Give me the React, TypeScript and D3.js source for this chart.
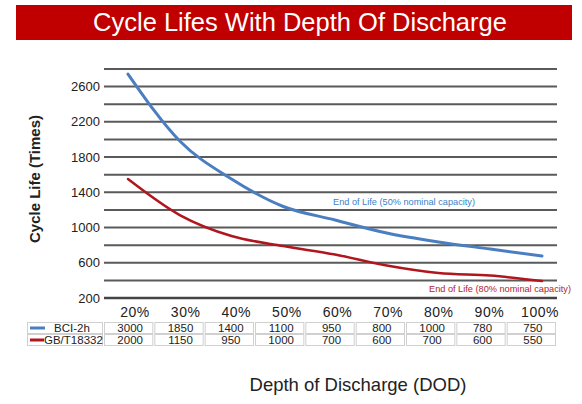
import * as d3 from "d3"
import { useEffect, useRef } from "react"

const categories = ["20%", "30%", "40%", "50%", "60%", "70%", "80%", "90%", "100%"]
const yTickValues = [200, 600, 1000, 1400, 1800, 2200, 2600]
const gridValues = [200, 400, 600, 800, 1000, 1200, 1400, 1600, 1800, 2000, 2200, 2400, 2600, 2800]

// values
const bciCurve = [2743, 1983, 1551, 1239, 1086, 938, 836, 756, 677]
const gbCurve = [1551, 1142, 904, 790, 694, 569, 484, 455, 393]

// values printed in the table under the chart
const seriesNames = ["BCI-2h", "GB/T18332"]
const bciTable = [3000, 1850, 1400, 1100, 950, 800, 1000, 780, 750]
const gbTable = [2000, 1150, 950, 1000, 700, 600, 700, 600, 550]

const WIDTH = 582
const HEIGHT = 404
const FONT = "'Liberation Sans', Arial, sans-serif"
const BLUE = "#4a7ec0"
const RED = "#b0161e"

const App = () => {
  const svgRef = useRef<SVGSVGElement>(null)

  useEffect(() => {
    if (!svgRef.current) return
    d3.select(svgRef.current).selectAll("*").remove()

    const svg = d3
      .select(svgRef.current)
      .attr("width", WIDTH)
      .attr("height", HEIGHT)
      .style("font-family", FONT)

    svg.append("rect").attr("width", WIDTH).attr("height", HEIGHT).attr("fill", "#fff")

    // title bar
    svg
      .append("rect")
      .attr("x", 16)
      .attr("y", 5)
      .attr("width", 556)
      .attr("height", 35)
      .attr("fill", "#c00000")
    svg
      .append("text")
      .attr("x", 300)
      .attr("y", 31)
      .attr("text-anchor", "middle")
      .attr("font-size", "25.5px")
      .attr("fill", "#fff")
      .text("Cycle Lifes With Depth Of Discharge")

    const yScale = d3.scaleLinear().domain([200, 2800]).range([298, 69])
    const xScale = d3.scalePoint<string>().domain(categories).range([128, 542])
    const labelScale = d3.scalePoint<string>().domain(categories).range([135, 540])
    const colScale = d3.scaleBand<string>().domain(categories).range([103, 556])

    // grid lines
    svg
      .append("g")
      .selectAll("line")
      .data(gridValues)
      .join("line")
      .attr("x1", 104)
      .attr("x2", 557)
      .attr("y1", (d) => yScale(d))
      .attr("y2", (d) => yScale(d))
      .attr("stroke", (d) => (d === 200 ? "#444" : "#5a5a5a"))
      .attr("stroke-width", (d) => (d === 200 ? 2.5 : 2))

    // y tick labels
    svg
      .append("g")
      .selectAll("text")
      .data(yTickValues)
      .join("text")
      .attr("x", 100)
      .attr("y", (d) => yScale(d) + 4.5)
      .attr("text-anchor", "end")
      .attr("font-size", "13px")
      .attr("fill", "#222")
      .text((d) => d)

    // y axis title
    svg
      .append("text")
      .attr("transform", "translate(40, 179) rotate(-90)")
      .attr("text-anchor", "middle")
      .attr("font-size", "15px")
      .attr("font-weight", "bold")
      .attr("fill", "#222")
      .text("Cycle Life (Times)")

    // x category labels
    svg
      .append("g")
      .selectAll("text")
      .data(categories)
      .join("text")
      .attr("x", (d) => labelScale(d) ?? 0)
      .attr("y", 317)
      .attr("text-anchor", "middle")
      .attr("font-size", "14px")
      .attr("letter-spacing", "0.5px")
      .attr("fill", "#222")
      .text((d) => d)

    const line = d3
      .line<number>()
      .x((_, i) => xScale(categories[i]) ?? 0)
      .y((d) => yScale(d))
      .curve(d3.curveMonotoneX)

    svg
      .append("path")
      .datum(bciCurve)
      .attr("fill", "none")
      .attr("stroke", BLUE)
      .attr("stroke-width", 3)
      .attr("stroke-linecap", "round")
      .attr("d", line)

    svg
      .append("path")
      .datum(gbCurve)
      .attr("fill", "none")
      .attr("stroke", RED)
      .attr("stroke-width", 2.5)
      .attr("stroke-linecap", "round")
      .attr("d", line)

    svg
      .append("text")
      .attr("x", 333)
      .attr("y", 205)
      .attr("font-size", "9.2px")
      .attr("fill", "#3d7fc4")
      .text("End of Life (50% nominal capacity)")

    svg
      .append("text")
      .attr("x", 429)
      .attr("y", 292)
      .attr("font-size", "9.2px")
      .attr("fill", "#b3232b")
      .text("End of Life (80% nominal capacity)")

    // table
    const rows = [bciTable, gbTable]
    const colors = [BLUE, RED]
    const rowTop = [322, 334]
    const rowH = 12
    const table = svg.append("g")

    rows.forEach((vals, r) => {
      table
        .append("rect")
        .attr("x", 27.5)
        .attr("y", rowTop[r] + 0.5)
        .attr("width", 75)
        .attr("height", rowH - 1)
        .attr("fill", "#fff")
        .attr("stroke", "#d0d0d0")

      table
        .selectAll(`rect.cell${r}`)
        .data(categories)
        .join("rect")
        .attr("class", `cell${r}`)
        .attr("x", (d) => (colScale(d) ?? 0) + 1.5)
        .attr("y", rowTop[r] + 0.5)
        .attr("width", colScale.bandwidth() - 2)
        .attr("height", rowH - 1)
        .attr("fill", "#fff")
        .attr("stroke", "#d0d0d0")

      table
        .selectAll(`text.val${r}`)
        .data(vals)
        .join("text")
        .attr("class", `val${r}`)
        .attr("x", (_, i) => (colScale(categories[i]) ?? 0) + colScale.bandwidth() / 2 + 2)
        .attr("y", rowTop[r] + 10)
        .attr("text-anchor", "middle")
        .attr("font-size", "11.5px")
        .attr("fill", "#222")
        .text((d) => d)
    })

    // legend samples
    table
      .append("line")
      .attr("x1", 30)
      .attr("x2", 45)
      .attr("y1", rowTop[0] + 6)
      .attr("y2", rowTop[0] + 6)
      .attr("stroke", colors[0])
      .attr("stroke-width", 3)
    table
      .append("text")
      .attr("x", 72)
      .attr("y", rowTop[0] + 10)
      .attr("text-anchor", "middle")
      .attr("font-size", "11.5px")
      .attr("fill", "#222")
      .text(seriesNames[0])

    table
      .append("line")
      .attr("x1", 30)
      .attr("x2", 44)
      .attr("y1", rowTop[1] + 6)
      .attr("y2", rowTop[1] + 6)
      .attr("stroke", colors[1])
      .attr("stroke-width", 3)
    table
      .append("text")
      .attr("x", 44)
      .attr("y", rowTop[1] + 10)
      .attr("font-size", "11.5px")
      .attr("fill", "#222")
      .text(seriesNames[1])

    // x axis title
    svg
      .append("text")
      .attr("x", 358)
      .attr("y", 391)
      .attr("text-anchor", "middle")
      .attr("font-size", "18.5px")
      .attr("fill", "#222")
      .text("Depth of Discharge (DOD)")
  }, [])

  return (
    <svg
      ref={svgRef}
      style={{ position: "absolute", left: 0, top: 0, display: "block" }}
    />
  )
}

export default App
